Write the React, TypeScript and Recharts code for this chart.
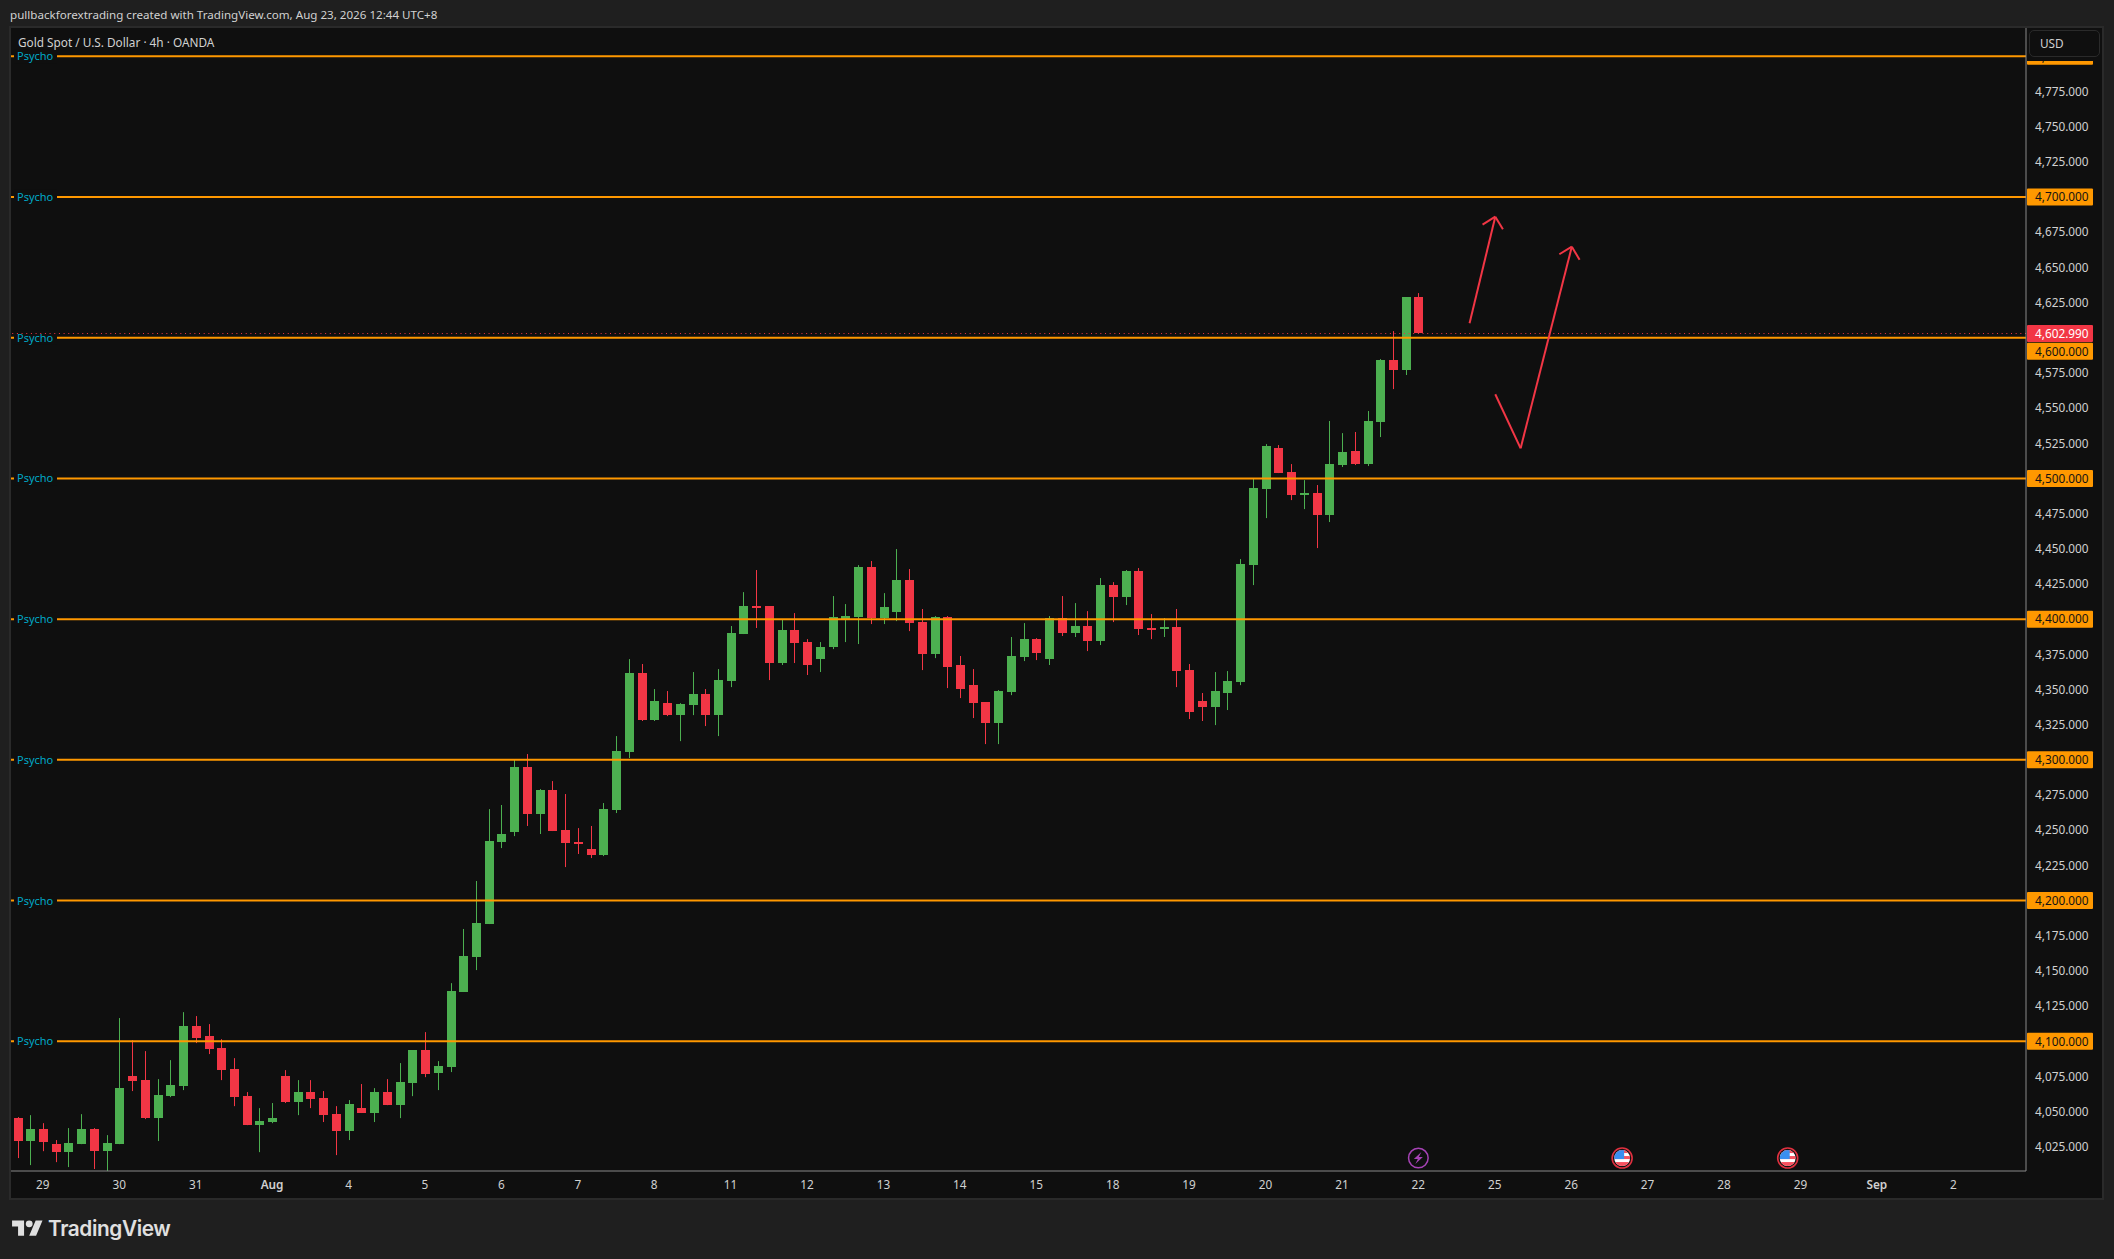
import React from "react";
import { ComposedChart, Bar, XAxis, YAxis, ReferenceLine, ReferenceDot } from "recharts";

const opens = [
  4045.4, 4029.1, 4037.6, 4026.9, 4021.2, 4026.9, 4037.6, 4021.9, 4026.9, 4075.3,
  4072.4, 4045.4, 4061.0, 4068.1, 4110.8, 4103.7, 4095.2, 4080.2, 4061.0, 4040.4,
  4042.6, 4075.3, 4056.8, 4063.9, 4059.6, 4048.2, 4036.2, 4052.5, 4049.0, 4063.9,
  4054.6, 4070.3, 4093.7, 4077.4, 4081.6, 4135.0, 4159.9, 4183.3, 4241.6, 4248.7,
  4294.9, 4261.5, 4278.5, 4250.1, 4241.6, 4236.6, 4232.3, 4264.3, 4305.5, 4361.7,
  4328.3, 4340.3, 4331.8, 4338.9, 4346.7, 4331.8, 4356.0, 4389.4, 4409.3, 4409.3,
  4368.8, 4392.2, 4383.7, 4371.6, 4380.1, 4400.0, 4401.5, 4437.0, 4400.8, 4405.0,
  4427.8, 4397.9, 4375.2, 4401.5, 4367.4, 4353.1, 4341.1, 4326.1, 4348.2, 4373.0,
  4385.8, 4371.6, 4400.8, 4390.1, 4395.1, 4384.4, 4424.2, 4415.7, 4434.2, 4393.7,
  4392.9, 4394.4, 4363.8, 4341.8, 4337.5, 4347.5, 4355.3, 4438.4, 4492.4, 4521.6,
  4504.5, 4488.9, 4489.6, 4474.0, 4509.5, 4519.5, 4510.2, 4540.1, 4584.1, 4577.0,
  4628.9,
];
const highs = [
  4046.1, 4047.5, 4041.8, 4029.8, 4038.3, 4048.2, 4038.3, 4033.3, 4116.5, 4100.8,
  4093.0, 4073.1, 4086.6, 4120.7, 4117.9, 4112.2, 4101.5, 4088.0, 4063.9, 4052.5,
  4056.1, 4079.5, 4072.4, 4072.4, 4064.6, 4053.9, 4058.2, 4069.6, 4066.7, 4073.1,
  4084.5, 4093.7, 4106.5, 4085.9, 4141.3, 4179.8, 4213.9, 4265.0, 4267.9, 4300.6,
  4304.1, 4279.2, 4284.9, 4275.7, 4251.5, 4253.0, 4269.3, 4316.9, 4371.6, 4368.1,
  4350.3, 4348.9, 4340.3, 4362.4, 4350.3, 4364.5, 4395.1, 4419.2, 4434.9, 4409.3,
  4400.0, 4404.3, 4385.8, 4383.7, 4416.4, 4410.7, 4438.4, 4441.3, 4418.5, 4449.8,
  4435.6, 4407.2, 4402.2, 4402.2, 4373.8, 4364.5, 4341.1, 4349.6, 4387.3, 4397.2,
  4386.5, 4402.2, 4416.4, 4411.4, 4405.7, 4429.2, 4426.3, 4434.9, 4436.3, 4403.6,
  4400.8, 4407.2, 4368.1, 4347.5, 4362.4, 4363.1, 4442.7, 4499.6, 4524.4, 4523.7,
  4510.2, 4498.8, 4495.3, 4540.8, 4532.2, 4533.0, 4547.9, 4584.8, 4604.7, 4628.9,
  4631.7,
];
const lows = [
  4017.0, 4012.0, 4021.9, 4014.1, 4010.6, 4026.9, 4009.2, 4007.7, 4026.9, 4064.6,
  4044.7, 4029.1, 4060.3, 4065.3, 4098.7, 4090.9, 4072.4, 4053.9, 4040.4, 4021.2,
  4041.8, 4056.1, 4047.5, 4052.5, 4042.6, 4019.1, 4029.8, 4049.0, 4042.6, 4054.6,
  4045.4, 4061.0, 4074.5, 4065.3, 4078.1, 4135.0, 4150.6, 4183.3, 4237.3, 4245.8,
  4253.0, 4247.3, 4249.4, 4223.8, 4233.1, 4230.2, 4231.6, 4262.2, 4301.3, 4327.6,
  4327.6, 4331.1, 4313.3, 4331.8, 4324.0, 4316.9, 4351.7, 4389.4, 4393.7, 4356.7,
  4367.4, 4368.8, 4360.3, 4362.4, 4378.7, 4383.7, 4382.3, 4396.5, 4396.5, 4398.6,
  4391.5, 4363.8, 4372.3, 4351.0, 4343.9, 4329.7, 4311.2, 4311.2, 4346.0, 4370.2,
  4370.9, 4367.4, 4388.0, 4387.3, 4377.3, 4381.6, 4397.9, 4410.0, 4388.7, 4385.8,
  4387.3, 4351.7, 4329.0, 4327.6, 4324.7, 4335.4, 4353.1, 4424.2, 4471.8, 4503.8,
  4484.6, 4478.2, 4450.5, 4469.0, 4508.1, 4509.5, 4508.8, 4529.4, 4563.5, 4573.5,
  4602.99,
];
const closes = [
  4029.1, 4037.6, 4028.3, 4021.2, 4027.6, 4037.6, 4021.9, 4027.6, 4066.7, 4071.7,
  4045.4, 4061.8, 4068.9, 4110.8, 4102.3, 4094.4, 4079.5, 4060.3, 4040.4, 4043.3,
  4045.4, 4056.8, 4063.9, 4058.9, 4047.5, 4036.2, 4055.4, 4049.0, 4063.9, 4054.6,
  4071.0, 4093.7, 4076.7, 4082.4, 4135.7, 4160.6, 4184.0, 4242.3, 4247.3, 4294.9,
  4261.5, 4278.5, 4249.4, 4240.9, 4240.4, 4232.3, 4265.0, 4306.3, 4361.7, 4328.3,
  4341.8, 4331.8, 4339.6, 4346.7, 4331.8, 4356.7, 4390.1, 4409.3, 4408.6, 4368.8,
  4392.2, 4383.0, 4367.4, 4380.1, 4401.5, 4402.2, 4437.0, 4400.8, 4408.6, 4427.8,
  4397.2, 4375.2, 4401.5, 4365.9, 4350.3, 4340.3, 4326.1, 4348.9, 4373.8, 4385.8,
  4375.9, 4400.8, 4390.1, 4395.1, 4384.4, 4424.2, 4415.7, 4434.2, 4392.9, 4392.9,
  4394.4, 4363.1, 4334.0, 4337.5, 4348.9, 4356.0, 4439.1, 4493.2, 4523.0, 4503.8,
  4488.2, 4489.6, 4474.0, 4510.2, 4518.7, 4510.2, 4540.8, 4584.1, 4577.0, 4628.9,
  4602.99,
];

const dayLabels = [
  "29", "30", "31", "Aug", "4", "5", "6", "7", "8", "11", "12", "13", "14",
  "15", "18", "19", "20", "21", "22", "25", "26", "27", "28", "29", "Sep", "2",
];
const dayTicks = [
  2, 8, 14, 20, 26, 32, 38, 44, 50, 56, 62, 68, 74,
  80, 86, 92, 98, 104, 110, 116, 122, 128, 134, 140, 146, 152,
];
const priceTicks = [
  4025, 4050, 4075, 4125, 4150, 4175, 4225, 4250, 4275, 4325, 4350, 4375, 4425, 4450, 4475,
  4525, 4550, 4575, 4625, 4650, 4675, 4725, 4750, 4775,
];
const psychoLevels = [4100, 4200, 4300, 4400, 4500, 4600, 4700, 4800];
const lastPrice = 4602.99;

// hand drawn arrows, [bar index, price]
const arrowOneShaft = [[114.02, 4610.2], [116.04, 4686.0]];
const arrowOneHead = [[115.04, 4680.3], [116.04, 4686.0], [116.64, 4677.0]];
const arrowTwoShaft = [[116.04, 4559.8], [118.03, 4521.4], [122.05, 4664.7]];
const arrowTwoHead = [[121.07, 4659.3], [122.05, 4664.7], [122.66, 4655.4]];
const arrows = [arrowOneShaft, arrowOneHead, arrowTwoShaft, arrowTwoHead];

const newsBar = 110;
const flagBars = [126, 139];
const eventPrice = 4017;

const candles = opens.map((open, i) => ({
  index: i,
  open,
  high: highs[i],
  low: lows[i],
  close: closes[i],
  range: [lows[i], highs[i]],
}));

const GREEN = "#4caf50";
const RED = "#f23645";
const ORANGE = "#ff9800";
const PANE = "#0f0f0f";
const PAGE = "#1f1f1f";
const BORDER = "#2a2a2a";
const AXIS = "#8a8a8a";
const LABEL = "#d1d1d1";
const FONT = "'Noto Sans', sans-serif";

const Candle = (props: any) => {
  const { x, y, width, height, payload } = props;
  const { open, high, low, close } = payload;
  const color = close >= open ? GREEN : RED;
  const perUnit = height / (high - low);
  const cx = Math.round(x + width / 2);
  const top = Math.round(y + (high - Math.max(open, close)) * perUnit);
  const bottom = Math.round(y + (high - Math.min(open, close)) * perUnit);
  return (
    <g>
      <rect x={cx} y={y} width={1} height={height} fill={color} />
      <rect x={cx - 4} y={top} width={9} height={Math.max(bottom - top, 2)} fill={color} />
    </g>
  );
};

const PriceTick = (props: any) => {
  const { x, y, payload } = props;
  const value = payload.value;
  const text = value.toLocaleString("en-US", { minimumFractionDigits: 3, maximumFractionDigits: 3 });
  const isLevel = psychoLevels.includes(value);
  const isLast = value === lastPrice;
  // the 4,600 tag gets pushed down by the last price tag
  const cy = value === 4600 ? y + 13.5 : y;
  return (
    <g>
      {(isLevel || isLast) && (
        <rect x={x} y={cy - 8.5} width={66} height={17} rx={1} fill={isLast ? RED : ORANGE} />
      )}
      <text
        x={x + 8}
        y={cy - 0.7}
        dominantBaseline="central"
        fontFamily={FONT}
        fontSize={11.8}
        fill={isLast ? "#ffffff" : isLevel ? "#131313" : LABEL}
      >
        {text}
      </text>
    </g>
  );
};

const DayTick = (props: any) => {
  const { x, y, payload } = props;
  const label = dayLabels[dayTicks.indexOf(payload.value)];
  const isMonth = label === "Aug" || label === "Sep";
  return (
    <text
      x={x}
      y={y}
      textAnchor="middle"
      dominantBaseline="central"
      fontFamily={FONT}
      fontSize={11.8}
      fontWeight={isMonth ? 600 : 400}
      fill={LABEL}
    >
      {label}
    </text>
  );
};

const PsychoLabel = (props: any) => {
  const { viewBox } = props;
  return (
    <g>
      <rect x={viewBox.x + 3} y={viewBox.y - 7} width={43} height={14} fill={PANE} />
      <text
        x={viewBox.x + 6}
        y={viewBox.y - 0.5}
        dominantBaseline="central"
        fontFamily={FONT}
        fontSize={11}
        fill="#00a9c7"
      >
        Psycho
      </text>
    </g>
  );
};

const NewsIcon = (props: any) => {
  const { cx, cy } = props;
  return (
    <g>
      <circle cx={cx} cy={cy} r={9.8} fill={PANE} stroke="#a642b5" strokeWidth={1.5} />
      <path
        d={`M${cx + 3} ${cy - 6}L${cx - 4.5} ${cy + 1}H${cx - 0.5}L${cx - 3} ${cy + 6}L${cx + 4.5} ${cy - 1}H${cx + 0.5}Z`}
        fill="#a642b5"
      />
    </g>
  );
};

const FlagIcon = (props: any) => {
  const { cx, cy, id } = props;
  return (
    <g>
      <clipPath id={id}>
        <circle cx={cx} cy={cy} r={8} />
      </clipPath>
      <circle cx={cx} cy={cy} r={10} fill="#131313" stroke="#e0303f" strokeWidth={1.6} />
      <g clipPath={`url(#${id})`}>
        <rect x={cx - 8} y={cy - 8} width={16} height={16} fill="#ffffff" />
        <rect x={cx - 8} y={cy - 8} width={16} height={3} fill="#f7525f" />
        <rect x={cx - 8} y={cy - 2} width={16} height={3} fill="#f7525f" />
        <rect x={cx - 8} y={cy + 4} width={16} height={4} fill="#f7525f" />
        <rect x={cx - 8} y={cy - 8} width={10} height={9} fill="#3a8ff0" />
      </g>
    </g>
  );
};

export default function App() {
  return (
    <div style={{ position: "fixed", left: 0, top: 0, width: 2114, height: 1259, background: PAGE, overflow: "hidden", fontFamily: FONT }}>
      <div style={{ position: "absolute", left: 10, top: 7, fontSize: 11.6, lineHeight: "16px", color: LABEL, whiteSpace: "nowrap" }}>
        pullbackforextrading created with TradingView.com, Aug 23, 2026 12:44 UTC+8
      </div>

      <div style={{ position: "absolute", left: 9, top: 26, width: 2091, height: 1170, background: PANE, border: `2px solid ${BORDER}` }} />

      <div style={{ position: "absolute", left: 0, top: 0 }}>
        <ComposedChart
          width={2114}
          height={1259}
          data={candles}
          margin={{ top: 28, right: 0, bottom: 0, left: 11 }}
        >
          <XAxis
            dataKey="index"
            type="number"
            domain={[-0.5, 157.71]}
            allowDataOverflow
            ticks={dayTicks}
            interval={0}
            height={88}
            stroke={AXIS}
            tickLine={false}
            tick={<DayTick />}
            tickSize={0}
            tickMargin={13}
          />
          <YAxis
            type="number"
            orientation="right"
            domain={[4007.8, 4820.1]}
            allowDataOverflow
            ticks={[...priceTicks, ...psychoLevels, lastPrice]}
            interval={0}
            width={88}
            stroke={AXIS}
            tickLine={false}
            tick={<PriceTick />}
            tickSize={0}
            tickMargin={1}
          />

          {psychoLevels.map((level) => (
            <ReferenceLine
              key={level}
              y={level}
              stroke={ORANGE}
              strokeWidth={2}
              label={<PsychoLabel />}
            />
          ))}
          <ReferenceLine y={lastPrice} stroke={RED} strokeWidth={1} strokeDasharray="1 3.67" />

          <Bar dataKey="range" barSize={9} shape={<Candle />} isAnimationActive={false} />

          {arrows.map((points, a) =>
            points.slice(1).map((p, i) => (
              <ReferenceLine
                key={`${a}-${i}`}
                segment={[
                  { x: points[i][0], y: points[i][1] },
                  { x: p[0], y: p[1] },
                ]}
                stroke={RED}
                strokeWidth={2}
              />
            ))
          )}

          <ReferenceDot x={newsBar} y={eventPrice} r={10} shape={<NewsIcon />} />
          {flagBars.map((bar) => (
            <ReferenceDot key={bar} x={bar} y={eventPrice} r={10} shape={<FlagIcon id={`flag-${bar}`} />} />
          ))}
        </ComposedChart>
      </div>

      <div style={{ position: "absolute", left: 18, top: 34, fontSize: 11.8, lineHeight: "16px", color: LABEL, whiteSpace: "nowrap" }}>
        Gold Spot / U.S. Dollar · 4h · OANDA
      </div>

      <div style={{ position: "absolute", left: 2027, top: 28, width: 75, height: 33, background: PANE }}>
        <div style={{ position: "absolute", left: 2, top: 2, width: 71, height: 27, border: `1.5px solid ${BORDER}`, borderRadius: 5, color: LABEL, fontSize: 11.8, lineHeight: "25px", paddingLeft: 10, boxSizing: "border-box" }}>
          USD
        </div>
      </div>

      <svg style={{ position: "absolute", left: 12, top: 1217 }} width={31} height={24} viewBox="0 0 36 28">
        <path d="M14 22H7V11H0V4h14v18zM28 22h-8l7.500-18h8L28 22z" fill="#e0e0e0" />
        <circle cx={20} cy={8} r={4} fill="#e0e0e0" />
      </svg>
      <div style={{ position: "absolute", left: 48, top: 1214, fontFamily: "Inter, sans-serif", fontSize: 20.8, fontWeight: 600, letterSpacing: -0.4, lineHeight: "30px", color: "#e0e0e0" }}>
        TradingView
      </div>
    </div>
  );
}
